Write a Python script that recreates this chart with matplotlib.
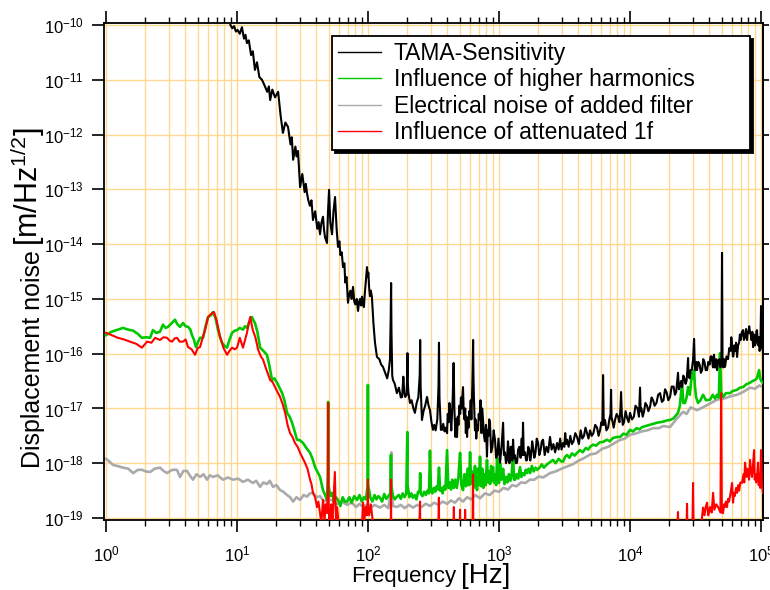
import numpy as np
import matplotlib
matplotlib.use('Agg')
import matplotlib.pyplot as plt
from matplotlib.ticker import LogLocator, NullLocator, NullFormatter

plt.rcParams['font.family'] = ['Liberation Sans', 'DejaVu Sans']
plt.rcParams['mathtext.default'] = 'regular'
plt.rcParams['axes.unicode_minus'] = False

# (frequency [Hz], log10 of displacement noise [m/Hz^1/2])
tama = [(8.9,-10.00),(9.2,-10.06),(9.5,-10.02),(9.8,-10.12),(10.1,-10.09),(10.5,-10.16),(10.9,-10.04),
        (11.3,-10.25),(11.6,-10.18),(11.9,-10.33),(12.3,-10.28),(12.8,-10.55),(13.2,-10.48),(13.7,-10.82),
        (14.2,-10.68),(14.8,-10.95),(15.5,-11.00),(16.2,-11.10),(17.0,-11.22),(17.5,-11.12),(17.9,-11.37),
        (18.6,-11.18),(19.5,-11.32),(20.6,-11.22),(21.5,-11.65),(22.4,-11.97),(23.4,-11.78),(24.5,-11.86),
        (25.6,-12.18),(26.2,-12.05),(26.8,-12.46),(27.9,-12.22),(28.5,-12.40),(29.2,-12.30),(30.3,-12.96),
        (31.5,-12.72),(32.8,-13.05),(33.5,-12.90),(34.2,-13.07),(35.0,-13.20),(36.0,-13.30),(37.0,-13.20),
        (38.0,-13.56),(39.5,-13.40),(41.0,-13.72),(42.0,-13.60),(43.0,-13.82),(44.0,-13.62),(45.3,-13.50),
        (46.2,-13.75),(47.0,-13.88),(48.6,-13.98),(49.5,-13.40),(50.4,-13.01),(51.5,-13.60),(53.1,-13.82),
        (54.5,-13.40),(56.0,-13.14),(57.5,-13.70),(59.0,-14.05),(60.5,-13.95),(61.5,-14.20),(63.0,-14.15),
        (64.4,-14.42),(66.0,-14.35),(67.0,-14.70),(68.5,-14.60),(70.3,-15.07),(72.0,-14.90),(73.5,-14.85),
        (75.0,-15.00),(76.8,-14.78),(78.5,-15.05),(80.0,-15.10),(82.0,-15.00),(83.9,-15.22),(85.5,-15.05),
        (87.0,-15.00),(88.5,-15.12),(90.0,-14.96),(91.5,-15.10),(93.0,-15.15),(94.5,-14.90),(96.0,-14.70),
        (98.2,-14.42),(99.5,-14.60),(100.5,-14.52),(102,-14.80),(103.5,-14.95),(105,-14.85),(107,-14.96),
        (110,-15.45),(113,-15.80),(117,-16.06),(122,-16.10),(126,-16.20),(130,-16.24),(135,-16.35),
        (140,-16.45),(144,-16.30),(147,-16.11),(149,-15.30),(150,-14.71),(151,-15.60),(153,-16.40),
        (155,-16.48),(160,-16.55),(166,-16.72),(172,-16.62),(178,-16.80),(182,-16.79),(186,-16.42),
        (189,-16.70),(192,-16.79),(197,-16.75),(199,-16.40),(200,-15.99),(201,-16.50),(203,-16.70),
        (209,-16.90),(215,-16.85),(222,-17.00),(228,-17.08),(235,-16.90),(242,-16.80),(248,-16.40),
        (250,-15.75),(252,-16.60),(258,-17.21),(265,-17.05),(273,-16.95),(282,-16.79),(290,-16.95),
        (297,-17.03),(305,-17.25),(313,-17.39),(320,-17.30),(328,-17.40),(338,-17.20),(345,-16.60),
        (348,-15.80),(351,-16.80),(360,-17.39),(367,-17.39),(375,-17.28),(384,-17.42),(392,-17.35),
        (401,-17.45),(406,-17.10),(412,-17.25),(418,-16.90),(423,-17.03),(432,-17.40),(443,-16.80),
        (450,-16.17),(456,-17.00),(465,-17.52),(471,-17.20),(478,-17.52),(484,-17.15),(490,-17.30),
        (498,-16.95),(505,-17.10),(512,-16.80),(520,-17.00),(526,-16.75),(531,-16.61),(538,-17.10),
        (545,-17.20),(552,-17.00),(558,-17.45),(564,-17.15),(570,-17.52),(578,-17.20),(585,-17.35),
        (592,-17.05),(600,-17.10),(608,-16.85),(615,-17.20),(620,-16.90),(625,-16.60),(630,-16.20),
        (634,-15.75),(638,-16.40),(643,-16.80),(649,-17.10),(655,-17.40),(662,-17.20),(670,-17.55),
        (680,-17.30),(690,-17.40),(700,-17.10),(710,-17.20),(722,-16.85),(735,-17.45),(745,-17.00),
        (755,-17.21),(768,-17.50),(780,-17.60),(795,-17.30),(809,-17.88),(820,-17.40),(830,-17.50),
        (842,-17.20),(853,-17.26),(870,-17.80),(890,-17.70),(910,-17.40),(931,-17.57),(950,-17.90),
        (970,-17.85),(990,-17.55),(1018,-17.99),(1045,-17.70),(1074,-17.26),(1090,-17.85),(1110,-17.80),
        (1130,-18.00),(1151,-17.94),(1170,-17.60),(1185,-17.75),(1200,-18.00),(1213,-17.94),(1230,-17.70),
        (1245,-17.70),(1262,-17.95),(1280,-17.57),(1300,-17.90),(1320,-17.85),(1345,-18.00),(1372,-17.99),
        (1400,-17.75),(1430,-17.70),(1460,-17.90),(1490,-17.55),(1510,-17.85),(1524,-17.26),(1545,-17.85),
        (1580,-17.80),(1610,-17.95),(1636,-17.94),(1670,-17.70),(1700,-17.75),(1730,-17.95),(1760,-17.85),
        (1790,-17.60),(1818,-17.70),(1860,-17.90),(1900,-17.80),(1940,-17.55),(1986,-17.63),(2030,-17.85),
        (2080,-17.75),(2120,-17.60),(2169,-17.57),(2230,-17.85),(2300,-17.70),(2370,-17.80),(2450,-17.52),
        (2520,-17.75),(2600,-17.65),(2680,-17.80),(2772,-17.63),(2850,-17.75),(2930,-17.55),(3000,-17.75),
        (3083,-17.63),(3150,-17.70),(3200,-17.45),(3250,-17.65),(3305,-17.57),(3400,-17.70),(3500,-17.50),
        (3600,-17.65),(3700,-17.60),(3820,-17.45),(3939,-17.52),(4070,-17.65),(4200,-17.40),(4320,-17.55),
        (4450,-17.50),(4570,-17.35),(4697,-17.45),(4820,-17.55),(4954,-17.40),(5100,-17.50),(5250,-17.45),
        (5420,-17.30),(5600,-17.35),(5750,-17.50),(5900,-17.40),(6050,-17.25),(6150,-17.30),(6225,-16.39),
        (6300,-17.30),(6445,-17.21),(6600,-17.40),(6800,-17.35),(6950,-17.20),(7100,-17.10),(7164,-16.66),
        (7230,-17.20),(7300,-17.20),(7500,-17.35),(7682,-17.21),(7900,-17.10),(8100,-17.15),(8300,-17.25),
        (8450,-17.00),(8539,-16.70),(8650,-17.10),(8800,-17.30),(9000,-17.25),(9250,-17.05),(9491,-17.17),
        (9750,-17.25),(10000,-17.08),(10350,-17.20),(10700,-17.15),(11000,-16.95),(11400,-17.00),
        (11700,-17.15),(11920,-16.62),(12050,-17.05),(12200,-17.00),(12500,-17.15),(12800,-17.05),
        (13100,-16.90),(13480,-16.95),(13800,-17.05),(14220,-16.97),(14600,-16.80),(15000,-16.85),
        (15400,-16.95),(15900,-16.90),(16400,-16.75),(16950,-16.72),(17500,-16.88),(18000,-16.85),
        (18500,-16.65),(19000,-16.70),(19600,-16.85),(20200,-16.79),(20800,-16.60),(21500,-16.60),
        (22000,-16.75),(22500,-16.70),(23000,-16.45),(23240,-16.35),(23600,-16.65),(24000,-16.60),
        (24500,-16.50),(24950,-16.61),(25500,-16.40),(26000,-16.45),(26500,-16.55),(27000,-16.50),
        (27400,-16.30),(27730,-16.08),(28000,-16.40),(28500,-16.45),(29000,-16.30),(29600,-16.30),
        (30300,-16.10),(30820,-15.73),(31200,-16.20),(31500,-16.30),(32000,-16.15),(32470,-16.30),
        (33200,-16.15),(34000,-16.20),(34700,-16.35),(35500,-16.30),(36200,-16.10),(37000,-16.15),
        (37800,-16.30),(38700,-16.30),(39600,-16.15),(40500,-16.20),(41200,-16.05),(42000,-16.05),
        (42900,-16.25),(43770,-16.02),(44400,-16.25),(45000,-16.25),(45600,-16.10),(46150,-16.30),
        (47000,-16.15),(48000,-16.10),(49000,-16.25),(49800,-16.20),(50360,-14.16),(50800,-16.15),
        (51500,-16.25),(52300,-16.10),(53090,-16.24),(54500,-16.05),(56000,-16.10),(57200,-15.90),
        (58500,-15.95),(59300,-15.70),(60080,-15.84),(61000,-16.05),(61500,-16.05),(62500,-15.85),
        (63500,-15.95),(64500,-15.80),(65620,-16.06),(66800,-15.85),(68000,-15.80),(69000,-15.65),
        (70000,-15.75),(71500,-15.60),(72950,-15.57),(74000,-15.75),(75500,-15.70),(76800,-15.55),
        (78200,-15.75),(79200,-15.60),(80000,-15.62),(81200,-15.50),(82470,-15.62),(83500,-15.65),
        (84500,-15.75),(85800,-15.60),(86960,-15.88),(88000,-15.65),(89000,-15.70),(90000,-15.85),
        (91000,-15.80),(92000,-15.60),(93160,-15.57),(94300,-15.80),(95500,-15.85),(96500,-15.70),
        (97500,-15.95),(99000,-15.80),(100000,-15.13),(100800,-15.70),(101500,-15.90),(102500,-15.85),
        (103500,-16.00)]

harmonics = [(1.00,-15.66),(1.10,-15.60),(1.20,-15.57),(1.35,-15.53),(1.47,-15.56),(1.61,-15.58),
        (1.75,-15.64),(1.88,-15.71),(2.02,-15.70),(2.17,-15.71),(2.28,-15.57),(2.42,-15.62),(2.58,-15.60),
        (2.72,-15.47),(2.85,-15.53),(2.97,-15.51),(3.15,-15.45),(3.36,-15.38),(3.50,-15.46),(3.67,-15.51),
        (3.87,-15.44),(4.05,-15.50),(4.23,-15.51),(4.40,-15.56),(4.53,-15.66),(4.70,-15.75),(4.86,-15.88),
        (5.05,-15.78),(5.22,-15.71),(5.50,-15.71),(5.75,-15.50),(6.01,-15.33),(6.30,-15.30),(6.56,-15.24),
        (6.85,-15.35),(7.16,-15.57),(7.42,-15.70),(7.68,-15.80),(8.05,-15.86),(8.39,-15.89),(8.75,-15.75),
        (9.16,-15.62),(9.60,-15.58),(10.0,-15.57),(10.5,-15.53),(11.1,-15.56),(11.5,-15.50),(11.9,-15.53),
        (12.4,-15.42),(13.0,-15.33),(13.4,-15.40),(13.7,-15.44),(14.3,-15.60),(15.0,-15.89),(15.9,-15.95),
        (16.9,-16.02),(17.6,-16.20),(18.5,-16.48),(19.3,-16.45),(20.2,-16.53),(21.1,-16.62),(22.1,-16.72),
        (23.0,-16.85),(24.1,-17.08),(25.2,-17.15),(26.3,-17.26),(27.4,-17.40),(28.7,-17.57),(30.2,-17.58),
        (31.9,-17.63),(33.8,-17.72),(36.1,-17.81),(37.7,-17.92),(39.4,-18.07),(41.0,-18.15),(43.0,-18.25),
        (44.2,-18.38),(45.3,-18.49),(47.0,-18.58),(48.6,-18.67),(49.3,-18.30),(49.6,-16.88),(49.9,-18.40),
        (51.5,-18.60),(53.1,-18.54),(55.0,-18.70),(56.8,-18.62),(59.0,-18.67),(61.5,-18.78),(64.0,-18.62),
        (66.5,-18.70),(69.2,-18.70),(72.0,-18.62),(75.0,-18.72),(78.5,-18.60),(82.4,-18.67),(86.0,-18.58),
        (89.5,-18.70),(93.0,-18.62),(96.5,-18.66),(99.3,-18.40),(99.8,-16.57),(100.3,-18.40),(104,-18.62),
        (108,-18.70),(112,-18.58),(116,-18.66),(120,-18.60),(123.5,-18.63),(128,-18.70),(133,-18.56),
        (138,-18.65),(143,-18.60),(148,-18.55),(149.6,-17.85),(150.4,-18.40),(155,-18.60),(160,-18.66),
        (166,-18.61),(172,-18.58),(178,-18.65),(184,-18.55),(190,-18.62),(196,-18.55),(199.5,-17.43),
        (200.5,-18.40),(207,-18.62),(214,-18.55),(220,-18.63),(227,-18.58),(234,-18.66),(241,-18.52),
        (248,-18.50),(250,-18.18),(252,-18.55),(260,-18.60),(268,-18.52),(276,-18.58),(284,-18.50),
        (292,-18.55),(297,-17.77),(302,-18.50),(310,-18.55),(318,-18.45),(326,-18.52),(334,-18.42),
        (341,-18.48),(348,-18.08),(355,-18.50),(363,-18.45),(371,-18.55),(380,-18.42),(390,-18.48),
        (401,-17.76),(410,-18.45),(420,-18.35),(430,-18.48),(440,-18.30),(452,-18.45),(464,-18.30),
        (476,-18.45),(490,-18.25),(504,-17.81),(516,-18.40),(531,-18.49),(545,-18.20),(560,-18.42),
        (575,-18.10),(590,-18.40),(601,-17.80),(612,-18.38),(625,-18.15),(640,-18.45),(655,-18.05),
        (667,-18.35),(679,-18.49),(690,-18.10),(702,-18.40),(716,-17.88),(730,-18.42),(745,-18.10),
        (760,-18.45),(775,-18.20),(790,-18.40),(809,-17.94),(825,-18.35),(840,-18.15),(855,-18.38),
        (870,-18.05),(885,-18.32),(899,-18.07),(915,-18.35),(935,-18.20),(950,-18.40),(966,-17.90),
        (985,-18.30),(1000,-18.36),(1018,-18.00),(1045,-18.30),(1074,-18.10),(1100,-18.38),(1130,-18.25),
        (1160,-18.35),(1190,-18.20),(1220,-18.32),(1250,-18.20),(1280,-17.76),(1300,-18.30),(1325,-18.30),
        (1360,-18.20),(1400,-18.28),(1446,-18.07),(1480,-18.25),(1520,-18.18),(1560,-18.22),(1600,-18.12),
        (1636,-18.18),(1680,-18.10),(1725,-18.18),(1780,-18.05),(1840,-18.15),(1900,-18.08),(1960,-18.12),
        (2056,-18.07),(2120,-18.02),(2200,-18.08),(2323,-18.02),(2450,-17.98),(2583,-17.94),(2700,-18.00),
        (2850,-17.92),(3000,-17.97),(3083,-17.97),(3200,-17.88),(3305,-17.85),(3450,-17.90),(3600,-17.82),
        (3780,-17.86),(3939,-17.81),(4150,-17.76),(4350,-17.80),(4600,-17.72),(4800,-17.75),(4954,-17.70),
        (5220,-17.66),(5500,-17.68),(5850,-17.62),(6225,-17.61),(6670,-17.57),(7000,-17.60),(7400,-17.54),
        (7960,-17.52),(8390,-17.52),(8900,-17.46),(9400,-17.48),(10000,-17.39),(10540,-17.42),
        (11200,-17.36),(11800,-17.38),(12360,-17.34),(13200,-17.32),(14000,-17.30),(15000,-17.28),
        (16080,-17.26),(16950,-17.25),(18000,-17.24),(19000,-17.22),(20200,-17.21),(21500,-17.18),
        (22500,-17.12),(23240,-17.08),(24000,-16.95),(24950,-16.53),(25500,-16.90),(26300,-16.90),
        (27000,-16.80),(27730,-16.61),(28600,-16.75),(29720,-16.35),(30300,-16.45),(30820,-16.30),
        (31300,-16.60),(31900,-16.79),(33040,-16.90),(34500,-16.85),(36070,-16.75),(38000,-16.85),
        (40820,-16.84),(42800,-16.75),(44500,-16.82),(46150,-16.75),(47600,-16.80),(48640,-15.99),
        (49600,-16.70),(51300,-16.79),(54000,-16.72),(57940,-16.72),(61000,-16.68),(65620,-16.66),
        (69000,-16.62),(72950,-16.61),(77000,-16.56),(82470,-16.53),(86000,-16.50),(89900,-16.48),
        (93000,-16.45),(96600,-16.30),(98500,-16.45),(100500,-16.50),(103500,-16.53)]

filter_noise = [(1.00,-17.92),(1.05,-17.96),(1.13,-18.03),(1.22,-18.05),(1.35,-18.08),(1.48,-18.10),
        (1.61,-18.18),(1.75,-18.12),(1.88,-18.12),(2.02,-18.15),(2.17,-18.16),(2.35,-18.10),(2.58,-18.08),
        (2.75,-18.14),(2.92,-18.18),(3.2,-18.12),(3.48,-18.12),(3.67,-18.25),(3.9,-18.14),(4.15,-18.14),
        (4.35,-18.22),(4.61,-18.30),(4.9,-18.20),(5.22,-18.25),(5.55,-18.20),(5.90,-18.30),(6.2,-18.22),
        (6.56,-18.25),(7.1,-18.22),(7.82,-18.30),(8.5,-18.26),(9.32,-18.30),(10.2,-18.28),(11.1,-18.34),
        (12.1,-18.30),(13.2,-18.36),(14.0,-18.32),(15.0,-18.43),(15.9,-18.35),(16.9,-18.38),(17.8,-18.32),
        (18.8,-18.43),(20.0,-18.40),(21.3,-18.49),(22.6,-18.52),(24.1,-18.58),(25.4,-18.62),(26.8,-18.70),
        (28.4,-18.62),(30.3,-18.67),(32.2,-18.58),(34.2,-18.61),(36.0,-18.55),(38.0,-18.54),(40.5,-18.62),
        (43.0,-18.60),(46.0,-18.70),(49.0,-18.66),(54.1,-18.68),(58,-18.75),(63,-18.70),(69.2,-18.76),
        (75,-18.72),(81,-18.80),(86,-18.74),(91.6,-18.80),(97,-18.76),(104,-18.82),(112,-18.76),
        (123.5,-18.81),(133,-18.76),(143,-18.82),(149.6,-18.50),(150.4,-17.80),(151.2,-18.50),(155,-18.78),
        (166,-18.80),(178,-18.76),(190,-18.82),(205,-18.76),(220,-18.81),(238,-18.76),(255,-18.80),
        (275,-18.74),(297,-18.78),(320,-18.72),(345,-18.76),(370,-18.70),(401,-18.74),(430,-18.68),
        (460,-18.72),(495,-18.64),(531,-18.70),(570,-18.62),(610,-18.66),(660,-18.58),(716,-18.64),
        (780,-18.55),(850,-18.58),(920,-18.50),(1000,-18.52),(1080,-18.45),(1170,-18.48),(1260,-18.40),
        (1360,-18.42),(1470,-18.35),(1590,-18.36),(1720,-18.30),(1860,-18.30),(2010,-18.24),(2170,-18.26),
        (2450,-18.18),(2700,-18.15),(3000,-18.10),(3300,-18.06),(3650,-18.02),(4000,-17.96),(4500,-17.90),
        (4954,-17.84),(5500,-17.82),(6100,-17.74),(6800,-17.70),(7500,-17.64),(8300,-17.58),(9100,-17.55),
        (10000,-17.48),(11000,-17.46),(12200,-17.42),(13500,-17.40),(15000,-17.36),(16500,-17.36),
        (18000,-17.32),(20200,-17.34),(22500,-17.20),(25400,-17.06),(27000,-17.10),(29000,-16.98),
        (32470,-17.03),(36000,-16.98),(40000,-16.92),(46150,-16.84),(52000,-16.82),(58000,-16.78),
        (65620,-16.75),(73000,-16.70),(82470,-16.62),(90000,-16.64),(97000,-16.58),(103500,-16.61)]

attenuated_1f = [(1.00,-15.62),(1.10,-15.66),(1.23,-15.71),(1.37,-15.74),(1.52,-15.78),(1.70,-15.82),
        (1.88,-15.89),(2.06,-15.78),(2.22,-15.80),(2.37,-15.71),(2.58,-15.75),(2.75,-15.70),(2.92,-15.71),
        (3.05,-15.76),(3.19,-15.78),(3.35,-15.72),(3.48,-15.71),(3.65,-15.78),(3.87,-15.78),(4.05,-15.74),
        (4.23,-15.88),(4.50,-15.92),(4.78,-16.02),(5.00,-15.90),(5.22,-15.88),(5.45,-15.72),(5.70,-15.57),
        (6.01,-15.33),(6.30,-15.28),(6.67,-15.24),(7.00,-15.40),(7.42,-15.69),(7.90,-15.90),(8.39,-16.02),
        (8.75,-15.95),(9.16,-15.89),(9.60,-15.92),(10.0,-15.89),(10.5,-15.71),(11.1,-15.89),(11.5,-15.75),
        (11.9,-15.62),(12.6,-15.33),(13.2,-15.57),(13.8,-15.70),(14.5,-15.93),(15.2,-16.05),(15.8,-16.11),
        (16.8,-16.30),(17.9,-16.48),(18.7,-16.52),(19.5,-16.61),(20.4,-16.70),(21.3,-16.79),(22.3,-16.92),
        (23.3,-17.08),(24.3,-17.30),(25.4,-17.45),(26.5,-17.52),(27.7,-17.63),(29.0,-17.70),(30.3,-17.81),
        (31.6,-17.90),(33.0,-17.99),(34.5,-18.10),(36.1,-18.30),(37.0,-18.38),(38.0,-18.54),(39.4,-18.62),
        (40.8,-18.80),(41.8,-18.70),(43.0,-18.91),(44.0,-19.10),(45.3,-18.67),(46.5,-19.05),(47.5,-18.75),
        (48.6,-18.91),(49.3,-18.50),(49.6,-16.90),(49.9,-18.60),(50.6,-19.10),(51.3,-18.98),(52.5,-18.75),
        (53.5,-19.10),(54.5,-18.70),(55.8,-18.16),(57.0,-19.10),(58.0,-18.80),(59.0,-18.98),(60.5,-19.30),
        (62,-19.40),(70,-19.40),(85,-19.40),(90,-19.10),(91.6,-18.72),(94,-19.02),(96,-18.80),(98,-18.95),
        (99.3,-18.70),(99.8,-18.30),(100.3,-18.80),(102,-18.95),(105,-18.75),(108,-19.00),(112,-19.40),
        (140,-19.40),(149.2,-19.30),(149.8,-18.30),(150.4,-19.30),(245,-19.30),(249.6,-18.70),(250.4,-19.30),
        (343,-19.30),(347.5,-18.63),(349,-19.30),(448,-19.30),(452,-18.80),(455,-19.30),(500,-19.30),
        (504,-18.85),(507,-19.30),(547,-19.30),(551,-18.85),(554,-19.30),(628,-19.30),(633,-18.21),
        (637,-19.30),(22800,-19.30),(23240,-18.89),(23400,-19.30),(26900,-19.30),(27230,-18.74),
        (27500,-19.30),(29900,-19.30),(30270,-18.36),(30600,-19.30),(35200,-19.20),(35460,-18.98),
        (36070,-18.81),(37000,-18.95),(37800,-18.80),(38700,-18.72),(39500,-18.95),(40000,-18.90),
        (40820,-18.80),(42000,-18.90),(43050,-18.54),(44000,-18.85),(45500,-18.75),(46980,-18.80),
        (48000,-18.85),(49000,-18.90),(49550,-16.72),(50200,-18.90),(51300,-18.91),(52200,-18.75),
        (53000,-18.80),(54000,-18.70),(54960,-18.80),(56000,-18.65),(57000,-18.70),(58500,-18.55),
        (60080,-18.36),(61140,-18.72),(62000,-18.55),(63000,-18.60),(64500,-18.45),(65620,-18.54),
        (67000,-18.40),(68000,-18.50),(69500,-18.35),(71610,-18.36),(73500,-18.20),(74500,-18.35),
        (75510,-17.99),(77500,-18.25),(78500,-18.10),(79600,-18.12),(81000,-18.30),(82470,-17.94),
        (84000,-18.15),(85360,-18.25),(86500,-18.10),(88430,-17.76),(89500,-18.30),(90500,-18.20),
        (92000,-18.35),(93160,-18.25),(94840,-17.99),(96000,-18.40),(97000,-18.30),(98500,-18.45),
        (100000,-17.76),(101500,-18.40),(103500,-18.54)]

labels = ['TAMA-Sensitivity', 'Influence of higher harmonics',
          'Electrical noise of added filter', 'Influence of attenuated 1f']
colors = ['black', '#00c800', '#aaaaaa', '#ff0000']
x_decades = [1e0, 1e1, 1e2, 1e3, 1e4, 1e5]
y_decades = [1e-19, 1e-18, 1e-17, 1e-16, 1e-15, 1e-14, 1e-13, 1e-12, 1e-11, 1e-10]

fig = plt.figure(figsize=(7.7, 5.9), dpi=100)
ax = fig.add_axes([104/770, 70/590, 659/770, 496.7/590])

# draw order: filter noise at the back, red on top
series = [tama, harmonics, filter_noise, attenuated_1f]
zorders = [4, 3, 2, 5]
widths = [1.5, 1.9, 1.9, 1.5]
for data, lab, col, z, w in zip(series, labels, colors, zorders, widths):
    f, e = np.array(data).T
    ax.plot(f, 10.0 ** e, color=col, lw=w, label=lab, zorder=z)

ax.set_xscale('log')
ax.set_yscale('log')
ax.set_xlim(0.965, 1.035e5)
ax.set_ylim(10 ** -19.036, 10 ** -9.969)

ax.set_xticks(x_decades)
ax.xaxis.set_minor_locator(LogLocator(base=10, subs=np.arange(2, 10), numticks=20))
ax.xaxis.set_minor_formatter(NullFormatter())
ax.set_yticks(y_decades)
ax.yaxis.set_minor_locator(NullLocator())

gcol = '#ffd890'
ax.grid(True, which='major', axis='both', color=gcol, lw=1.0, zorder=0)
ax.grid(True, which='minor', axis='x', color=gcol, lw=1.0, zorder=0)
ax.set_axisbelow(True)

for s in ax.spines.values():
    s.set_linewidth(1.3)
ax.tick_params(which='major', direction='out', length=8.6, width=1.2, labelsize=12,
               top=True, right=False, pad=9)
ax.tick_params(which='minor', direction='out', length=4.3, width=1.0, top=True, right=False)
ax.tick_params(axis='y', which='major', pad=6)

sec = ax.secondary_yaxis('right')
sec.set_yticks(y_decades)
sec.yaxis.set_minor_locator(NullLocator())
sec.tick_params(direction='out', length=4.3, width=1.2, labelright=False)
sec.spines['right'].set_linewidth(1.3)

leg = ax.legend(loc='upper left',
                bbox_to_anchor=(332/770, (590 - 151)/590, (750 - 332)/770, (151 - 36)/590),
                bbox_transform=fig.transFigure, mode='expand', borderaxespad=0, fontsize=16.5,
                handlelength=1.9, handletextpad=0.55, labelspacing=0.15, borderpad=0.25,
                fancybox=False, framealpha=1, edgecolor='black',
                shadow={'color': 'black', 'alpha': 1})
leg.get_frame().set_linewidth(1.3)
for ln in leg.get_lines():
    ln.set_linewidth(1.0)

fig.text(351/770, 8/590, 'Frequency', fontsize=16, ha='left', va='baseline')
fig.text(461/770, 7/590, '[Hz]', fontsize=20, ha='left', va='baseline')
fig.text(33/770, (590 - 468)/590, 'Displacement noise', rotation=90, fontsize=18,
         ha='center', va='bottom')
fig.text(47/770, (590 - 246)/590, r'[m/Hz$^{1/2}$]', rotation=90, fontsize=22,
         ha='right', va='bottom')

fig.savefig('out.png', dpi=100)
